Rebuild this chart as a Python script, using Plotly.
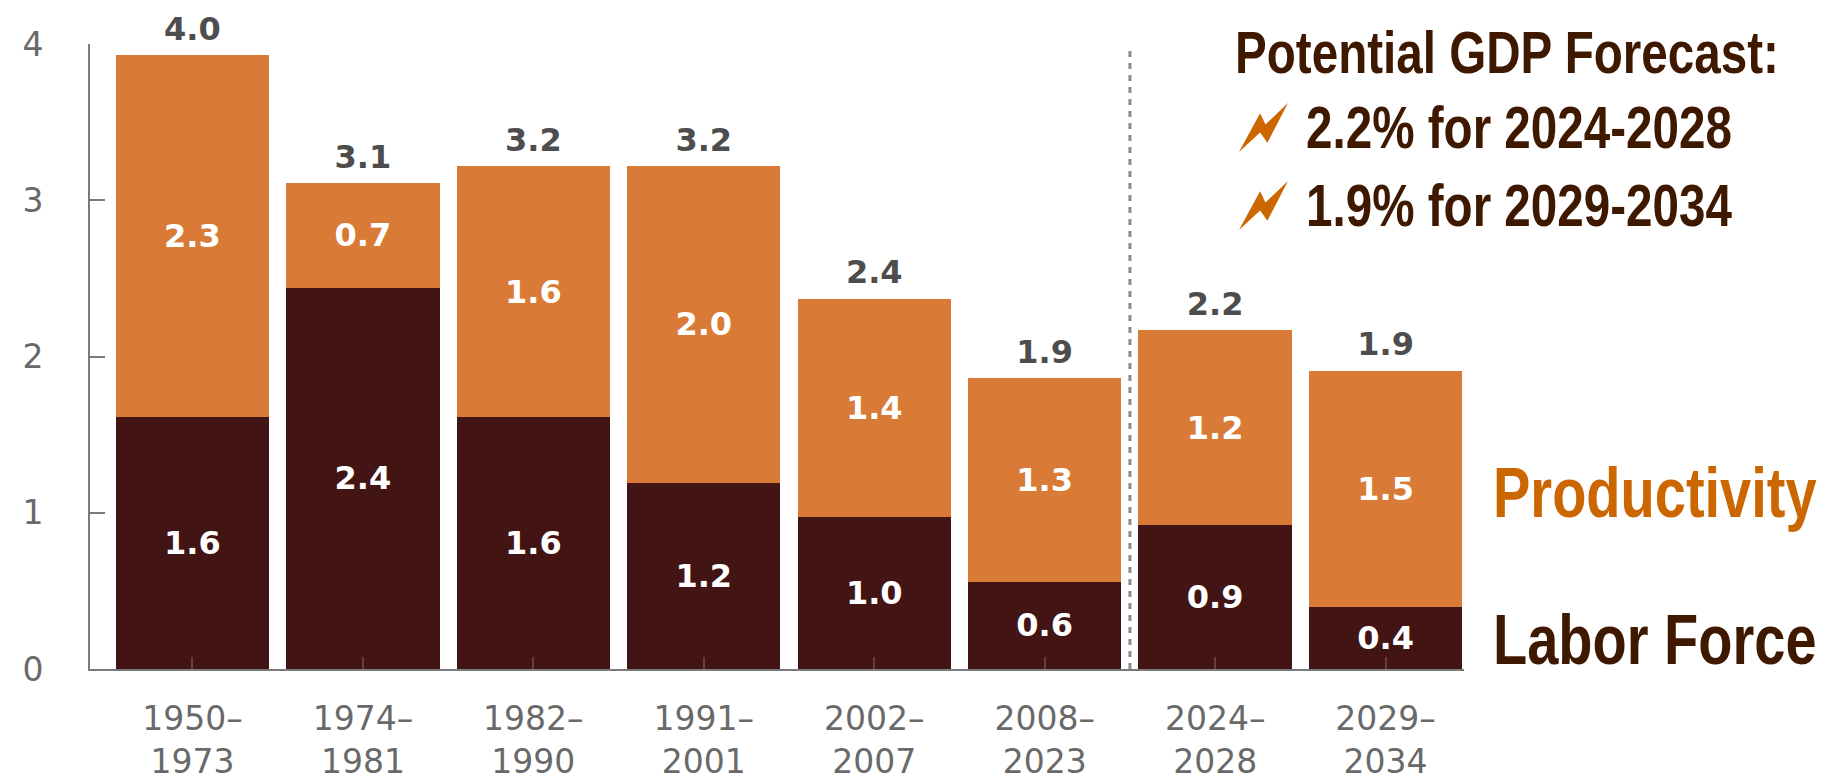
import plotly.graph_objects as go

periods = ["1950–<br>1973", "1974–<br>1981", "1982–<br>1990", "1991–<br>2001",
           "2002–<br>2007", "2008–<br>2023", "2024–<br>2028", "2029–<br>2034"]
labor = [1.61, 2.44, 1.61, 1.19, 0.97, 0.56, 0.92, 0.40]
productivity = [2.32, 0.67, 1.61, 2.03, 1.40, 1.30, 1.25, 1.51]
labor_labels = ["1.6", "2.4", "1.6", "1.2", "1.0", "0.6", "0.9", "0.4"]
productivity_labels = ["2.3", "0.7", "1.6", "2.0", "1.4", "1.3", "1.2", "1.5"]
total_labels = ["4.0", "3.1", "3.2", "3.2", "2.4", "1.9", "2.2", "1.9"]
y_ticks = [0, 1, 2, 3, 4]
forecast_divider = 5.5

DARK = "#431414"
ORANGE = "#d97b36"
GREY = "#696969"
TITLE = "#3f1800"
ACCENT = "#cc6600"

W, H = 1836, 784
L, R, T, B = 90, 372, 44, 115
PW, PH = W - L - R, H - T - B


def px(x):
    return (x - L) / PW


def py(y):
    return (H - B - y) / PH


x = list(range(len(periods)))
totals = [a + b for a, b in zip(labor, productivity)]
bar_font = dict(family="DejaVu Sans", size=32, color="white", weight="bold")

fig = go.Figure()
fig.add_bar(x=x, y=labor, marker=dict(color=DARK, line_width=0), width=0.9,
            text=labor_labels, textposition="inside", insidetextanchor="middle",
            textangle=0, insidetextfont=bar_font, constraintext="none", name="Labor Force")
fig.add_bar(x=x, y=productivity, marker=dict(color=ORANGE, line_width=0), width=0.9,
            text=productivity_labels, textposition="inside", insidetextanchor="middle",
            textangle=0, insidetextfont=bar_font, constraintext="none", name="Productivity")
fig.add_scatter(x=x, y=totals, mode="markers+text", text=total_labels,
                textposition="top center", cliponaxis=False,
                marker=dict(size=10, color="rgba(0,0,0,0)"),
                textfont=dict(family="DejaVu Sans", size=32, color="#4d4d4d", weight="bold"),
                showlegend=False, hoverinfo="skip")

fig.add_shape(type="line", xref="x", yref="paper", x0=forecast_divider, x1=forecast_divider,
              y0=0, y1=py(46), line=dict(color="#8c8c8c", width=3, dash="6px,6px"))

# lightning bolt outline as fractions of its box, then placed at two page positions
bolt = [(0, 1), (0.43, 0.21), (0.54, 0.44), (1, 0), (0.58, 0.81), (0.43, 0.6)]
for top in (103, 181):
    pts = [(1239 + a * 49, top + b * 49) for a, b in bolt]
    path = "M " + " L ".join(f"{px(a):.5f} {py(b):.5f}" for a, b in pts) + " Z"
    fig.add_shape(type="path", xref="paper", yref="paper", path=path,
                  fillcolor=ACCENT, line_width=0)

heads = [
    ("Potential GDP Forecast:", 1235, 53, TITLE, 47.6),
    ("2.2% for 2024-2028", 1306, 127, TITLE, 47.6),
    ("1.9% for 2029-2034", 1306, 205, TITLE, 47.6),
    ("Productivity", 1493, 492, ACCENT, 56),
    ("Labor Force", 1493, 639, TITLE, 56),
]
for text, ax, ay, color, size in heads:
    fig.add_annotation(text=text, xref="paper", yref="paper", x=px(ax), y=py(ay),
                       xanchor="left", yanchor="middle", showarrow=False, borderpad=0, borderwidth=0,
                       font=dict(family="Liberation Sans", size=size, color=color, weight="bold"))

fig.update_layout(
    width=W, height=H, barmode="stack", showlegend=False,
    margin=dict(l=L, r=R, t=T, b=B, autoexpand=False),
    paper_bgcolor="white", plot_bgcolor="white",
    font=dict(family="DejaVu Sans", color=GREY),
    xaxis=dict(range=[-0.601, 7.46], tickvals=x, ticktext=periods,
               showgrid=False, zeroline=False, showline=True, linecolor="#7a7a7a", linewidth=2,
               ticks="inside", ticklen=12, tickwidth=2, tickcolor="rgba(255,255,255,0.18)",
               tickfont=dict(size=33, color=GREY), ticklabelstandoff=19),
    yaxis=dict(range=[0, 4], tickvals=y_ticks, showgrid=False, zeroline=False,
               showline=True, linecolor="#7a7a7a", linewidth=2,
               ticks="inside", ticklen=15, tickwidth=2, tickcolor="#7a7a7a",
               tickfont=dict(size=33, color=GREY), ticklabelstandoff=38),
)

# Drop the page margin so the figure fills the window, and stretch the large
# headings (real text) vertically, since the reference's are condensed.
post = """
document.body.style.margin = '0';
var gd = document.getElementById('{plot_id}');
gd.querySelectorAll('text.annotation-text').forEach(function (t) {
  t.style.transformBox = 'fill-box';
  t.style.transformOrigin = 'center';
  t.style.transform = 'scaleY(1.25)';
});
"""
fig.write_html("out.html", post_script=post, config={"displayModeBar": False})
